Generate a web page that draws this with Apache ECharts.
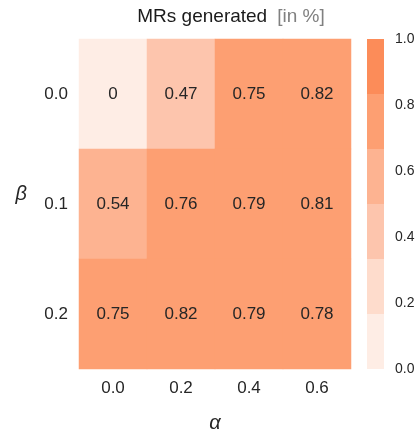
<!DOCTYPE html>
<html><head><meta charset="utf-8">
<script src="https://cdn.jsdelivr.net/npm/echarts@6/dist/echarts.min.js"></script>
<style>html,body{margin:0;padding:0;background:#fff}#c{width:417px;height:432px}</style>
</head><body><div id="c"></div>
<script>
const alphaLabels = ['0.0', '0.2', '0.4', '0.6'];
const betaLabels = ['0.0', '0.1', '0.2'];
const row0 = [0, 0.47, 0.75, 0.82];
const row1 = [0.54, 0.76, 0.79, 0.81];
const row2 = [0.75, 0.82, 0.79, 0.78];
const binColors = ['#feede5', '#fedccc', '#fdc5ad', '#fdb391', '#fd9f72', '#fc8c59'];
const binEdges = [0, 1/6, 2/6, 3/6, 4/6, 5/6, 1];

const rows = [row0, row1, row2];
const heatData = [];
rows.forEach((r, j) => r.forEach((v, i) => heatData.push([i, j, v])));

const pieces = binColors.map((c, k) => ({gte: binEdges[k], lt: k === 5 ? 1.0001 : binEdges[k + 1], color: c}));

const FONT = 'Liberation Sans, Arial, sans-serif';
const chart = echarts.init(document.getElementById('c'));
chart.setOption({
  animation: false,
  textStyle: {fontFamily: FONT},
  title: {
    text: '{a|MRs generated}  {b|[in %]}',
    left: 226, top: 2, textAlign: 'center',
    textStyle: {rich: {
      a: {fontSize: 19, fontWeight: 'normal', color: '#1a1a1a', fontFamily: FONT},
      b: {fontSize: 19, fontWeight: 'normal', color: '#808080', fontFamily: FONT}
    }}
  },
  grid: [
    {left: 79, top: 39, width: 272, height: 330, containLabel: false, outerBoundsMode: 'none'},
    {left: 367, top: 39, width: 17, height: 330, containLabel: false, outerBoundsMode: 'none'}
  ],
  xAxis: [
    {type: 'category', gridIndex: 0, data: alphaLabels,
     axisLine: {show: false}, axisTick: {show: false}, splitLine: {show: false},
     axisLabel: {fontSize: 17, color: '#262626', margin: 11, fontFamily: FONT},
     name: 'α', nameLocation: 'middle', nameGap: 44,
     nameTextStyle: {fontSize: 20, fontStyle: 'italic', color: '#262626', fontFamily: FONT}},
    {type: 'category', gridIndex: 1, data: ['c'], show: false}
  ],
  yAxis: [
    {type: 'category', gridIndex: 0, data: betaLabels, inverse: true,
     axisLine: {show: false}, axisTick: {show: false}, splitLine: {show: false},
     axisLabel: {fontSize: 17, color: '#262626', margin: 11, fontFamily: FONT},
     name: 'β', nameLocation: 'middle', nameGap: 52, nameRotate: 0,
     nameTextStyle: {fontSize: 20, fontStyle: 'italic', color: '#262626', fontFamily: FONT, verticalAlign: 'bottom'}},
    {type: 'value', gridIndex: 1, min: 0, max: 1, interval: 0.2, position: 'right',
     axisLine: {show: false}, axisTick: {show: false}, splitLine: {show: false},
     axisLabel: {fontSize: 14, color: '#262626', margin: 11, fontFamily: FONT,
       formatter: v => v.toFixed(1)}}
  ],
  visualMap: {
    type: 'piecewise', show: false, seriesIndex: 0, dimension: 2, pieces: pieces
  },
  series: [
    {type: 'heatmap', xAxisIndex: 0, yAxisIndex: 0, data: heatData,
     label: {show: true, fontSize: 17, color: '#262626', fontFamily: FONT,
       formatter: p => p.value[2] === 0 ? '0' : String(p.value[2])},
     itemStyle: {borderWidth: 0}},
    ...binColors.map((c, k) => ({
      type: 'bar', xAxisIndex: 1, yAxisIndex: 1, stack: 'cb', barWidth: '100%',
      data: [binEdges[k + 1] - binEdges[k]], itemStyle: {color: c}, silent: true
    }))
  ]
});
</script></body></html>
